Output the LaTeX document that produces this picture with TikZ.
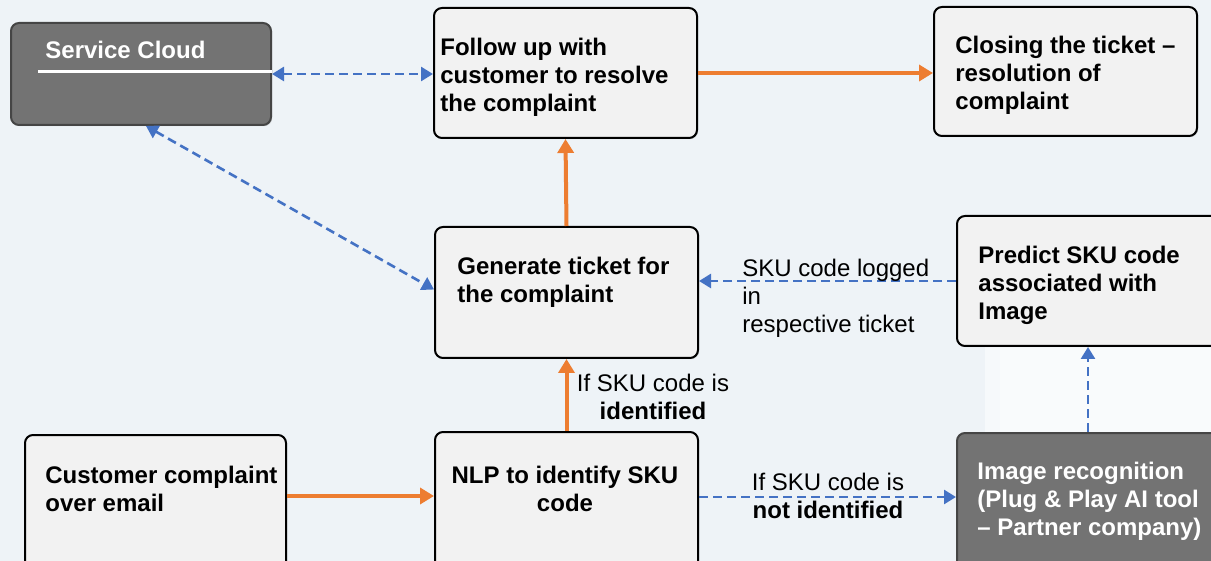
\documentclass[tikz,border=0pt]{standalone}
\usepackage{fontspec}
\setmainfont{Liberation Sans}
\usepackage{tikz}
\usetikzlibrary{positioning, arrows.meta, shadows}
\definecolor{bgblue}{HTML}{EEF3F7}
\definecolor{boxfill}{HTML}{F2F2F2}
\definecolor{darkfill}{HTML}{737373}
\definecolor{floworange}{HTML}{ED7D31}
\definecolor{flowblue}{HTML}{4472C4}
\tikzset{
box/.style={draw=black, line width=1pt, fill=boxfill, rounded corners=4pt, anchor=north west, inner sep=0pt,
  drop shadow={shadow xshift=0.6pt, shadow yshift=-0.6pt, opacity=0.25}}, % light process box
darkbox/.style={box, draw=darkfill!60!black, fill=darkfill}, % grey box for outside tools
boxtext/.style={anchor=west, align=left, inner sep=0pt, font=\fontsize{12}{14}\selectfont\bfseries}, % text inside the boxes
edgelabel/.style={inner sep=0pt, font=\fontsize{12}{14}\selectfont}, % text next to the arrows
mainflow/.style={draw=floworange, line width=2pt, -{Triangle[width=8pt,length=7pt]}}, % orange arrows
sideflow/.style={draw=flowblue, line width=1.3pt, dash pattern=on 4.5pt off 2.5pt, -{Triangle[width=7pt,length=6pt]}}, % blue dashed arrows
twoway/.style={sideflow, {Triangle[width=7pt,length=6pt]}-{Triangle[width=7pt,length=6pt]}},
}
\begin{document}
\begin{tikzpicture}[x=0.5pt, y=-0.5pt]
            \useasboundingbox (0,0) rectangle (1211,561);
            \clip (0,0) rectangle (1211,561);
            \fill[bgblue] (0,0) rectangle (1211,561);
            \fill[white, opacity=0.5] (985,340) rectangle (1211,440);
            \fill[white, opacity=0.4] (1000,350) rectangle (1211,430);

            % boxes
            \node[darkbox, minimum width=130pt, minimum height=51pt] (cloud) at (10,22) {};
            \node[box, minimum width=131.5pt, minimum height=65pt] (follow) at (433,7) {};
            \node[box, minimum width=131.5pt, minimum height=64.5pt] (closing) at (933,6) {};
            \node[box, minimum width=131.5pt, minimum height=65.5pt] (ticket) at (434,226) {};
            \node[box, minimum width=135pt, minimum height=65pt] (predict) at (956,215) {};
            \node[box, minimum width=130.5pt, minimum height=70pt] (complaint) at (24,434) {};
            \node[box, minimum width=131.5pt, minimum height=70pt] (nlp) at (434,431) {};
            \node[darkbox, minimum width=135pt, minimum height=70pt] (imagerec) at (956,432) {};

            % texts
            \node[boxtext, text=white] (cloudtxt) at (45,50) {Service Cloud};
            \node[boxtext] (followtxt) at (440,77) {Follow up with\\customer to resolve\\the complaint};
            \node[boxtext] (closingtxt) at (955,75) {Closing the ticket --\\resolution of\\complaint};
            \node[boxtext] (tickettxt) at (457,282) {Generate ticket for\\the complaint};
            \node[boxtext] (predicttxt) at (978,285) {Predict SKU code\\associated with\\Image};
            \node[boxtext] (complainttxt) at (45,489) {Customer complaint\\over email};
            \node[boxtext, anchor=center, align=center] (nlptxt) at (565,489) {NLP to identify SKU\\code};
            \node[boxtext, text=white] (imagerectxt) at (977,501) {Image recognition\\(Plug \& Play AI tool\\-- Partner company)};

            \coordinate (cloudline) at (38,72);
            \draw[white, line width=1.5pt] (cloudline) -- (cloudline -| cloud.east);

            % orange flow
            \draw[mainflow] ([yshift=4.5pt]complaint.east) -- ([yshift=4.5pt]complaint.east -| nlp.west);
            \draw[mainflow] (nlp.north) -- (ticket.south);
            \draw[mainflow] (ticket.north) -- (follow.south);
            \draw[mainflow] (follow.east) -- (follow.east -| closing.west);

            % blue flow
            \draw[twoway] (cloud.east) -- (cloud.east -| follow.west);
            \draw[twoway] ([xshift=2.5pt]cloud.south) -- ([yshift=1.5pt]ticket.west);
            \draw[sideflow] ([yshift=2.5pt]nlp.east) -- ([yshift=2.5pt]nlp.east -| imagerec.west);
            \draw[sideflow] ([xshift=-2pt]imagerec.north) -- ([xshift=-2pt]predict.south);
            \draw[sideflow] (predict.west) -- (predict.west -| ticket.east);

            % labels
            \node[edgelabel, align=center] (foundlbl) at (653,397) {If SKU code is\\\textbf{identified}};
            \node[edgelabel, align=center] (notfoundlbl) at (828,496) {If SKU code is\\\textbf{not identified}};
            \node[edgelabel, anchor=west, align=left] (loggedlbl) at (742,298) {SKU code logged\\in\\respective ticket};
        \end{tikzpicture}
\end{document}
